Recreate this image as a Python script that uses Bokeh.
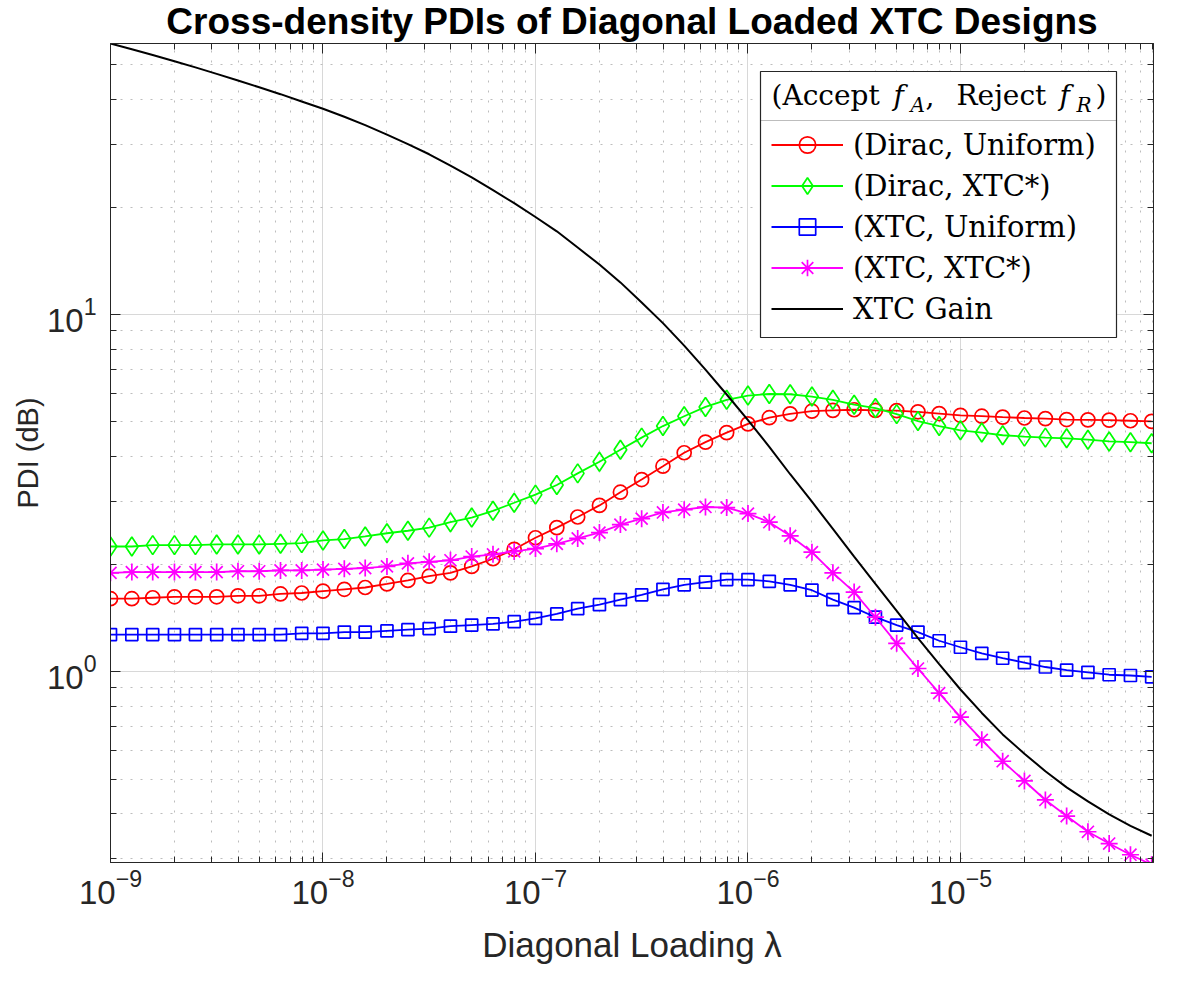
from bokeh.plotting import figure
from bokeh.models import (FixedTicker, LogAxis, Legend, LegendItem, Label,
                          PolyAnnotation, BoxAnnotation, Range1d,
                          CustomJSTickFormatter)
from bokeh.embed import file_html
from bokeh.resources import INLINE

# ---------------- data ----------------
mantissas = [1.00, 1.26, 1.58, 2.00, 2.51, 3.16, 3.98, 5.01, 6.31, 7.94]
decades = [1e-9, 1e-8, 1e-7, 1e-6, 1e-5]
loading = [m * d for d in decades for m in mantissas]

dirac_uniform = [1.60, 1.60, 1.61, 1.62, 1.62, 1.62, 1.63, 1.63, 1.65, 1.66,
                 1.68, 1.70, 1.72, 1.76, 1.80, 1.85, 1.89, 1.97, 2.07, 2.20,
                 2.37, 2.53, 2.71, 2.92, 3.18, 3.45, 3.76, 4.10, 4.39, 4.67,
                 4.94, 5.14, 5.27, 5.36, 5.39, 5.41, 5.39, 5.38, 5.34, 5.28,
                 5.22, 5.19, 5.16, 5.13, 5.11, 5.08, 5.07, 5.06, 5.04, 5.02]

dirac_xtc = [2.24, 2.24, 2.26, 2.26, 2.26, 2.27, 2.27, 2.27, 2.28, 2.29,
             2.33, 2.35, 2.39, 2.44, 2.48, 2.53, 2.62, 2.70, 2.82, 2.97,
             3.13, 3.33, 3.59, 3.87, 4.18, 4.52, 4.87, 5.19, 5.51, 5.77,
             5.93, 5.99, 5.98, 5.89, 5.77, 5.59, 5.47, 5.26, 5.03, 4.87,
             4.74, 4.67, 4.59, 4.55, 4.52, 4.50, 4.46, 4.41, 4.39, 4.36]

xtc_uniform = [1.27, 1.27, 1.27, 1.27, 1.27, 1.27, 1.27, 1.27, 1.27, 1.28,
               1.28, 1.29, 1.29, 1.30, 1.31, 1.32, 1.34, 1.35, 1.36, 1.38,
               1.41, 1.45, 1.50, 1.54, 1.59, 1.64, 1.70, 1.75, 1.78, 1.81,
               1.81, 1.79, 1.75, 1.69, 1.59, 1.51, 1.42, 1.35, 1.29, 1.22,
               1.17, 1.125, 1.09, 1.06, 1.03, 1.01, 0.995, 0.98, 0.975, 0.967]

xtc_xtc = [1.89, 1.90, 1.90, 1.90, 1.90, 1.90, 1.91, 1.91, 1.92, 1.92,
           1.93, 1.94, 1.95, 1.97, 2.01, 2.03, 2.05, 2.10, 2.13, 2.17,
           2.21, 2.28, 2.36, 2.45, 2.58, 2.68, 2.79, 2.84, 2.89, 2.88,
           2.77, 2.62, 2.40, 2.16, 1.89, 1.67, 1.42, 1.20, 1.02, 0.870,
           0.746, 0.644, 0.561, 0.494, 0.437, 0.394, 0.356, 0.330, 0.307, 0.288]

xtc_gain = [57.4, 55.3, 53.3, 51.2, 49.2, 47.2, 45.2, 43.3, 41.4, 39.5,
            37.7, 35.8, 33.9, 31.9, 30.0, 28.1, 26.1, 24.2, 22.3, 20.5,
            18.75, 17.1, 15.4, 13.8, 12.3, 10.8, 9.46, 8.18, 7.01, 5.97,
            5.06, 4.26, 3.57, 2.99, 2.51, 2.10, 1.76, 1.48, 1.24, 1.05,
            0.891, 0.766, 0.667, 0.589, 0.526, 0.474, 0.433, 0.398, 0.370, 0.347]

series_labels = ["(Dirac, Uniform)", "(Dirac, XTC*)", "(XTC, Uniform)",
                 "(XTC, XTC*)", "XTC Gain"]

x_major = [1e-9, 1e-8, 1e-7, 1e-6, 1e-5]
y_major = [1, 10]

# ---------------- figure ----------------
AX = "#262626"
W, H = 1163, 974
FL, FR, FT, FB = 110, 1153, 42, 862   # frame edges in figure pixels
p = figure(width=W, height=H, x_axis_type="log", y_axis_type="log",
           x_range=Range1d(1e-9, 8.1e-5), y_range=Range1d(0.292, 57.4),
           output_backend="svg", toolbar_location=None,
           min_border_left=FL, min_border_right=W - FR, min_border_top=FT,
           min_border_bottom=H - FB,
           title="Cross-density PDIs of Diagonal Loaded XTC Designs")
p.background_fill_color = "white"
p.border_fill_color = "white"
p.outline_line_color = AX
p.outline_line_width = 1

p.title.text_font = "Liberation Sans"
p.title.text_font_size = "37px"
p.title.text_font_style = "bold"
p.title.text_color = "black"
p.title.align = "center"
p.title.vertical_align = "top"
p.title.standoff = 0

x_minor = [k * d for d in x_major for k in range(2, 10) if k * d <= 8.1e-5]
y_minor = [k / 10 for k in range(3, 10)] + list(range(2, 10)) + [20, 30, 40, 50]
xt = FixedTicker(ticks=x_major, minor_ticks=x_minor)
yt = FixedTicker(ticks=y_major, minor_ticks=y_minor)


def style_axis(ax):
    ax.axis_line_color = AX
    ax.axis_line_width = 1
    ax.major_tick_line_color = AX
    ax.minor_tick_line_color = AX
    ax.major_tick_in = 10
    ax.major_tick_out = 0
    ax.minor_tick_in = 6
    ax.minor_tick_out = 0
    ax.major_label_text_font = "Liberation Sans"
    ax.major_label_text_font_size = "33px"
    ax.major_label_text_color = AX
    ax.axis_label_text_font = "Liberation Sans"
    ax.axis_label_text_font_style = "normal"
    ax.axis_label_text_color = AX


p.xaxis.ticker = xt
p.yaxis.ticker = yt
style_axis(p.xaxis[0])
style_axis(p.yaxis[0])
p.xaxis.major_label_standoff = 6
p.yaxis.major_label_standoff = 14
p.xaxis.axis_label = "Diagonal Loading λ"
p.xaxis.axis_label_text_font_size = "35px"
p.xaxis.axis_label_standoff = 18
p.yaxis.axis_label = "PDI (dB)"
p.yaxis.axis_label_text_font_size = "29px"
p.yaxis.axis_label_standoff = 0

blank = CustomJSTickFormatter(code="return ''")
top_ax = LogAxis(ticker=xt, formatter=blank)
right_ax = LogAxis(ticker=yt, formatter=blank)
for ax in (top_ax, right_ax):
    style_axis(ax)
    ax.major_label_text_font_size = "1px"
    ax.major_label_standoff = 0
p.add_layout(top_ax, "above")
p.add_layout(right_ax, "right")

p.xgrid.ticker = xt
p.ygrid.ticker = yt
for g in (p.xgrid[0], p.ygrid[0]):
    g.grid_line_color = "#d8d8d8"
    g.grid_line_width = 1
    g.minor_grid_line_color = "#bdbdbd"
    g.minor_grid_line_dash = "2 8"
    g.minor_grid_line_width = 1

# ---------------- series ----------------
specs = [
    (dirac_uniform, "#ff0000", "circle", 14),
    (dirac_xtc, "#00ff00", "diamond", 19),
    (xtc_uniform, "#0000ff", "square", 12),
    (xtc_xtc, "#ff00ff", "asterisk", 17),
]
items = []
for (vals, col, mk, sz), lab in zip(specs, series_labels[:4]):
    rl = p.line(loading, vals, line_color=col, line_width=1.8)
    rm = p.scatter(loading, vals, marker=mk, size=sz, fill_color=None,
                   line_color=col, line_width=1.7)
    items.append(LegendItem(label=lab, renderers=[rl, rm]))
rg = p.line(loading, xtc_gain, line_color="black", line_width=2)
items.append(LegendItem(label=series_labels[4], renderers=[rg]))

# legend frame (white box with border) drawn on the canvas, behind the legend
BOX_L, BOX_R, BOX_B, BOX_T = 650, 1006, 525, 791   # frame-relative screen px
p.add_layout(BoxAnnotation(left=BOX_L, right=BOX_R, bottom=BOX_B, top=BOX_T,
                           left_units="screen", right_units="screen",
                           bottom_units="screen", top_units="screen",
                           fill_color="white", fill_alpha=1,
                           line_color=AX, line_width=1.2, line_alpha=1,
                           level="guide"))
p.add_layout(PolyAnnotation(xs=[BOX_L, BOX_R], ys=[742, 742],
                            xs_units="screen", ys_units="screen",
                            line_color=AX, line_width=1.2, fill_alpha=0,
                            level="guide"))

legend = Legend(items=items, location=(BOX_L, 522), margin=0,
                title="(Accept fA, Reject fR)", title_text_alpha=0,
                title_text_font="DejaVu Serif", title_text_font_size="29px",
                title_standoff=8,
                label_text_font="DejaVu Serif", label_text_font_size="29px",
                label_text_color="black",
                glyph_width=72, glyph_height=41, label_height=40,
                label_standoff=10, spacing=0, padding=11,
                border_line_alpha=0, background_fill_alpha=0)
p.add_layout(legend)


def hdr(text, x, y, italic=False, size="28px"):
    p.add_layout(Label(x=x, y=y, x_units="screen", y_units="screen", text=text,
                       text_font="DejaVu Serif", text_font_size=size,
                       text_font_style="italic" if italic else "normal",
                       text_baseline="middle", text_align="left",
                       text_color="black"))


MID, SUB = 767, 758
hdr("(Accept", 661, MID)
hdr("f", 783, MID, italic=True)
hdr("A", 800, SUB, italic=True, size="20px")
hdr(",", 815, MID)
hdr("Reject", 846, MID)
hdr("f", 949, MID, italic=True)
hdr("R", 966, SUB, italic=True, size="20px")
hdr(")", 985, MID)

open("out.html", "w").write(file_html(p, INLINE))
